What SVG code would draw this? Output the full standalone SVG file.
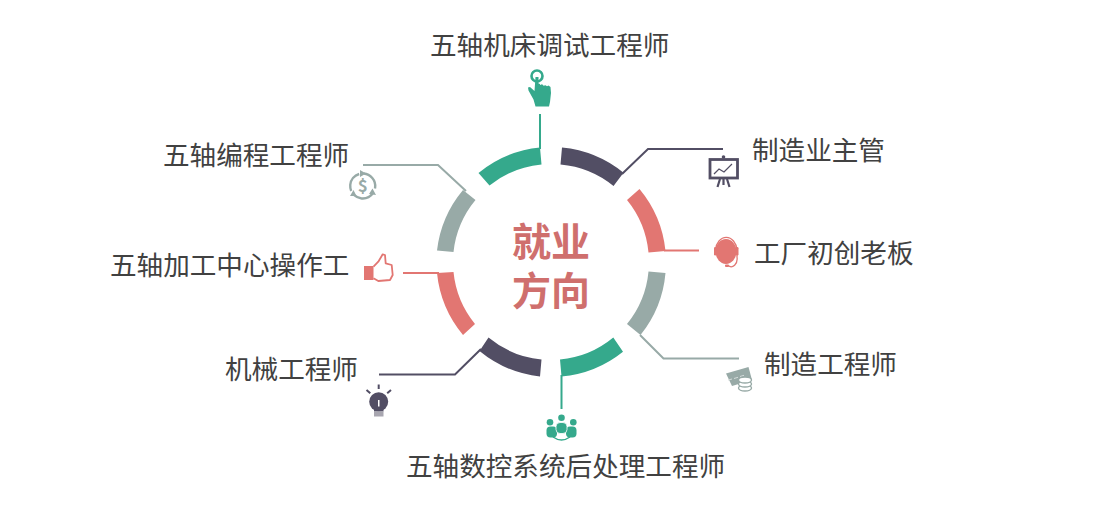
<svg xmlns="http://www.w3.org/2000/svg" width="1120" height="508" viewBox="0 0 1120 508">
<style>
text{font-family:"Noto Sans CJK SC","Noto Sans",sans-serif;}
.lb{font-size:26.6px;fill:#414141;font-weight:400;}
.ct{font-size:39px;fill:#cf6f6d;font-weight:700;text-anchor:middle;}
.ln{fill:none;stroke-width:2;}
.g{fill:#35a98c}.d{fill:#524e64}.p{fill:#e27672}.s{fill:#98aaa7}
</style>
<rect width="1120" height="508" fill="#fff"/>
<g id="connectors">
<path class="ln" stroke="#35a98c" d="M540 114V149"/>
<path class="ln" stroke="#524e64" d="M622 174L648 149H723"/>
<path class="ln" stroke="#e27672" d="M664 250.500H699"/>
<path class="ln" stroke="#98aaa7" d="M640 335L663.500 358.500H739"/>
<path class="ln" stroke="#35a98c" d="M561.500 375V409"/>
<path class="ln" stroke="#524e64" d="M379 374.500H455L481 349"/>
<path class="ln" stroke="#e27672" d="M403 273H439"/>
<path class="ln" stroke="#98aaa7" d="M363 165H438L466 191"/>
</g>
<g id="center"><text class="ct"><tspan x="551" y="256">就业</tspan><tspan x="551" y="305">方向</tspan></text></g>
<g id="node-top">
<path class="g" d="M478.500 173A115 115 0 0 1 540 147.500L541.500 164.500A98 98 0 0 0 489.500 185.500Z"/>
<text class="lb" x="430" y="55">五轴机床调试工程师</text>
<circle cx="537" cy="76" r="5.500" fill="none" stroke="#35a98c" stroke-width="2.600"/>
<path class="g" d="M535.500 77h3v6.500l1.500 .5v1l2-.8 1 .8 .5 .8 2-.6 1.500 1 1.500-.6 2 1.400 .5 6-1 9-1 4.500h-13.500l-2-7-5-9-.5-3 2-.5 4.500 4z"/>
</g>
<g id="node-tr">
<path class="d" d="M562 147.500A115 115 0 0 1 623.500 172.700L613.500 186A98 98 0 0 0 560.500 164.500Z"/>
<text class="lb" x="752" y="160">制造业主管</text>
<rect x="710" y="159.500" width="27.500" height="18.500" fill="none" stroke="#524e64" stroke-width="2.800"/>
<circle class="d" cx="723.500" cy="157" r="1.800"/>
<path fill="none" stroke="#524e64" stroke-width="2.200" d="M720 179l-2.500 8M727 179l2.500 8M723.500 179v6"/>
<path fill="none" stroke="#524e64" stroke-width="1.200" d="M714 174l5-5 5 3 8-8"/>
</g>
<g id="node-r">
<path class="p" d="M639.500 189A115 115 0 0 1 665.500 251L648.500 252.500A98 98 0 0 0 627 200Z"/>
<text class="lb" x="754" y="263">工厂初创老板</text>
<ellipse class="p" cx="726" cy="251.500" rx="10.500" ry="12.500"/>
<path d="M715.500 250a10.800 14 0 0 1 21.500 0v7a6 8 0 0 1-9 8.500" fill="none" stroke="#e27672" stroke-width="1.300"/>
<rect class="p" x="714" y="247" width="2.500" height="8.500" rx="1.200"/><rect class="p" x="736" y="247" width="2.500" height="8.500" rx="1.200"/>
<rect class="p" x="725" y="264.500" width="4" height="2.500" rx="1"/>
</g>
<g id="node-br">
<path class="s" d="M726 373.500l22.500-6.500 3.500 13-20 6z"/>
<path d="M728 380l4-1M734 378.500l4-1.200M740 376.500l4-1.200" stroke="#d5dcdb" stroke-width="1" fill="none"/>
<g fill="#fff" stroke="#98aaa7" stroke-width="1.400"><ellipse cx="745" cy="388" rx="6.500" ry="3"/><ellipse cx="745" cy="384" rx="6.500" ry="3"/><ellipse cx="745" cy="380" rx="6.500" ry="3"/></g>
<path class="s" d="M665.500 273A115 115 0 0 1 640.500 335L627 324A98 98 0 0 0 648.500 271.500Z"/>
<text class="lb" x="764" y="374">制造工程师</text>
</g>
<g id="node-b">
<path class="g" d="M623 351.700A115 115 0 0 1 561.500 376.500L560 359.600A98 98 0 0 0 613.300 337.600Z"/>
<text class="lb" x="406" y="476">五轴数控系统后处理工程师</text>
<g class="g"><circle cx="561.500" cy="417.700" r="3.300"/><circle cx="550" cy="422.300" r="3.300"/><circle cx="573.300" cy="422.300" r="3.300"/><rect x="546.500" y="426.500" width="10.500" height="11" rx="4"/><rect x="566" y="426.500" width="10.500" height="11" rx="4"/><rect x="556" y="422.500" width="11" height="11" rx="4" stroke="#fff" stroke-width=".8"/></g>
<path d="M553 437q8.500 6 17 0" fill="none" stroke="#35a98c" stroke-width="1.300"/>
</g>
<g id="node-bl">
<path class="d" d="M540 376.500A115 115 0 0 1 479.500 351L488.500 337.500A98 98 0 0 0 541.500 359.500Z"/>
<text class="lb" x="225" y="379">机械工程师</text>
<circle class="d" cx="378.700" cy="401.700" r="9.500"/>
<rect class="d" x="374" y="408" width="9.500" height="3.500"/>
<rect x="374" y="411.500" width="9.500" height="5" fill="#a8a6b0"/>
<rect x="378" y="400" width="1.500" height="6.500" fill="#fff"/>
<path d="M378.700 384.500v4.500M366.500 390l3.800 3.300M391 390l-3.800 3.300" stroke="#524e64" stroke-width="2" fill="none"/>
</g>
<g id="node-l">
<path class="p" d="M437 273L453.500 272A98 98 0 0 0 475 324L463 335A115 115 0 0 1 437 273Z"/>
<text class="lb" x="110" y="275">五轴加工中心操作工</text>
<rect class="p" x="364" y="266" width="9.500" height="14"/>
<path d="M373.500 266.700L378.300 261.700L382.700 254.300L385 255L385.700 263.300L391.700 265L392.700 275L390 280L378.300 281L373.500 278.300" fill="none" stroke="#e27672" stroke-width="1.800" stroke-linejoin="round"/>
</g>
<g id="node-tl">
<path class="s" d="M437 250.500A115 115 0 0 1 463 190L475.500 200A98 98 0 0 0 453.500 252Z"/>
<text class="lb" x="163" y="165">五轴编程工程师</text>
<circle cx="362.700" cy="186" r="12.500" fill="none" stroke="#98aaa7" stroke-width="2.400" stroke-dasharray="21 5.200" transform="rotate(-85 362.700 186)"/>
<path class="s" d="M360 170l6 3.500-6 3.500zM376 195l-7 -1 3.500 -5.500zM350 196l3.500-6 3 6z"/>
<text x="362.700" y="192" font-size="17" font-weight="700" fill="#98aaa7" text-anchor="middle">$</text>
</g>
</svg>
